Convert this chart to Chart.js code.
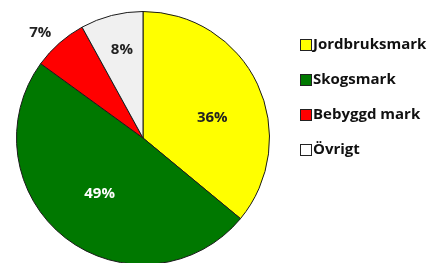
<!DOCTYPE html>
<html>
<head>
<meta charset="utf-8">
<script src="https://cdn.jsdelivr.net/npm/chart.js@4"></script>
<style>
  html, body { margin: 0; padding: 0; background: #fff; overflow: hidden; }
  #wrap { width: 430px; height: 270px; }
</style>
</head>
<body>
<div id="wrap"><canvas id="landChart" width="430" height="270"></canvas></div>
<script>
// markanvändning, andel i procent
const categories = ['Jordbruksmark', 'Skogsmark', 'Bebyggd mark', 'Övrigt'];
const shares = [36, 49, 7, 8];
const sliceColors = ['#ffff00', '#007800', '#ff0000', '#f0f0f0'];
const labelColors = ['#222222', '#ffffff', '#222222', '#222222'];
const labelRadius = [0.57, 0.56, 1.16, 0.72];
const labelTurn = [9, 0, -3, 1]; // grader, förskjutning från bitens mitt

const FONT = '"Open Sans", Lato, sans-serif';

// procentetiketter på tårtbitarna
const sliceLabels = {
    id: 'sliceLabels',
    afterDatasetsDraw(chart) {
        const ctx = chart.ctx;
        const arcs = chart.getDatasetMeta(0).data;
        ctx.save();
        ctx.font = 'bold 15px ' + FONT;
        ctx.textAlign = 'center';
        ctx.textBaseline = 'middle';
        arcs.forEach((arc, i) => {
            const mid = (arc.startAngle + arc.endAngle) / 2 + labelTurn[i] * Math.PI / 180;
            const r = arc.outerRadius * labelRadius[i];
            ctx.fillStyle = labelColors[i];
            ctx.fillText(shares[i] + '%', arc.x + Math.cos(mid) * r, arc.y + Math.sin(mid) * r);
        });
        ctx.restore();
    }
};

// egen förklaring till höger
const sideLegend = {
    id: 'sideLegend',
    afterDraw(chart) {
        const ctx = chart.ctx;
        ctx.save();
        ctx.font = 'bold 15px ' + FONT;
        ctx.textBaseline = 'middle';
        ctx.textAlign = 'left';
        categories.forEach((name, i) => {
            const y = 45 + i * 35;
            ctx.fillStyle = i === 3 ? '#ffffff' : sliceColors[i];
            ctx.fillRect(300.5, y - 5.5, 11, 11);
            ctx.strokeStyle = '#222';
            ctx.lineWidth = 1;
            ctx.strokeRect(300.5, y - 5.5, 11, 11);
            ctx.fillStyle = '#111';
            ctx.fillText(name, 313, y);
        });
        ctx.restore();
    }
};

new Chart(document.getElementById('landChart'), {
    type: 'pie',
    data: {
        labels: categories,
        datasets: [{
            data: shares,
            backgroundColor: sliceColors,
            borderColor: '#1a1a1a',
            borderWidth: 1
        }]
    },
    options: {
        responsive: false,
        devicePixelRatio: 1,
        animation: false,
        layout: {
            padding: { left: 16, right: 160, top: 11, bottom: 5 }
        },
        plugins: {
            legend: { display: false },
            tooltip: { enabled: false }
        }
    },
    plugins: [sliceLabels, sideLegend]
});
</script>
</body>
</html>
